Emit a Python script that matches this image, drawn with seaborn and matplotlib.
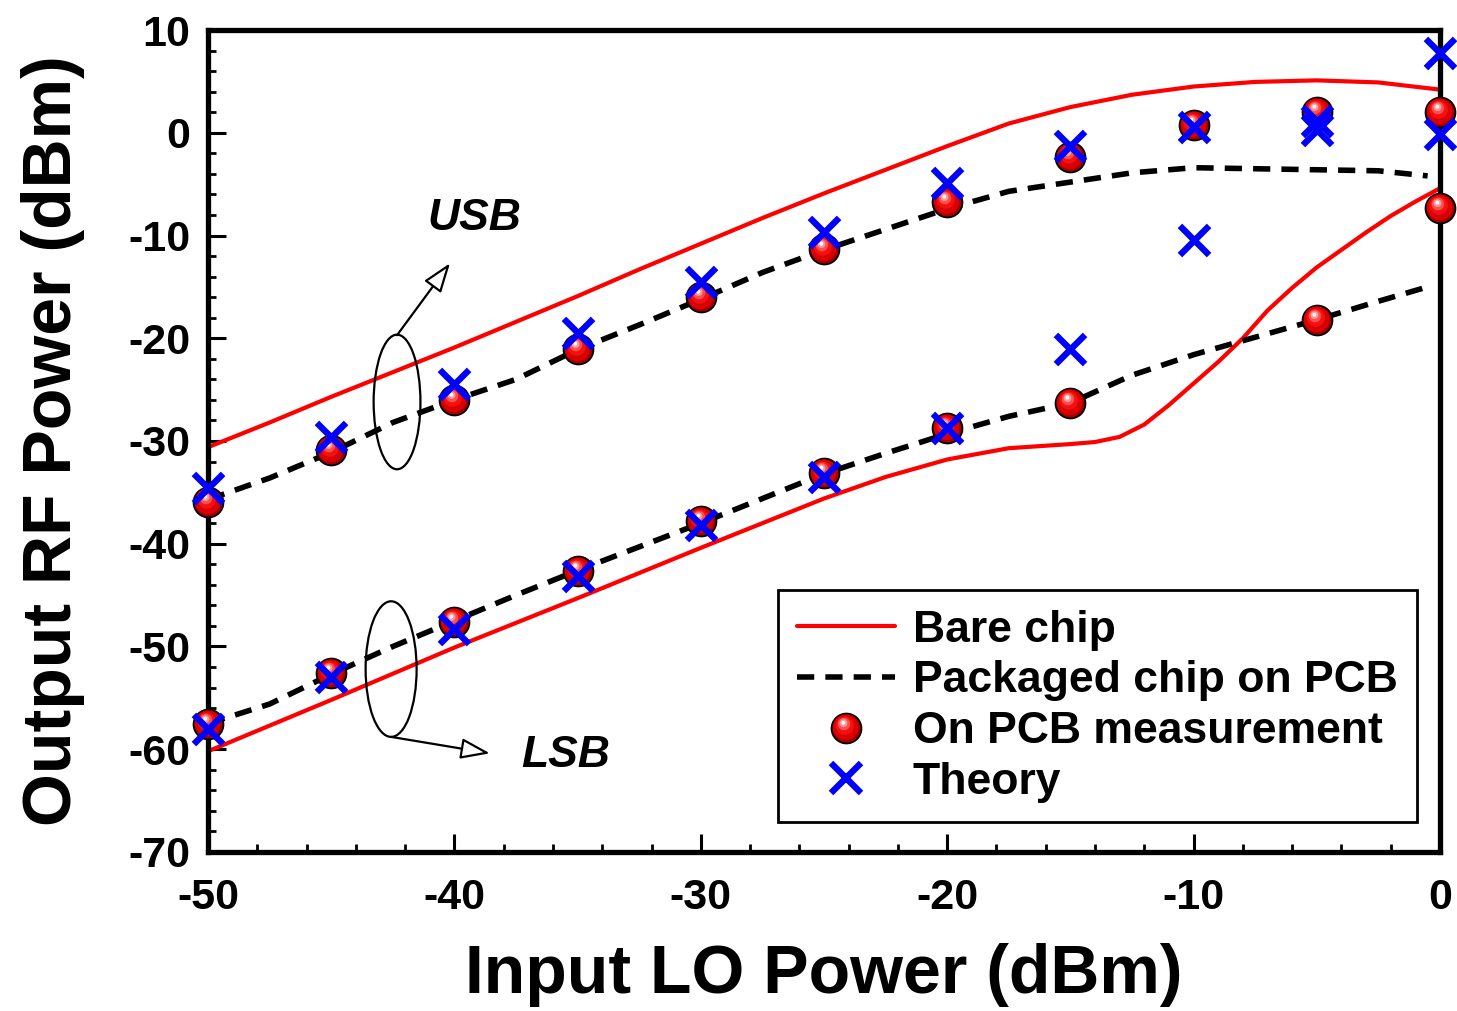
import numpy as np
import pandas as pd
import matplotlib
matplotlib.use("Agg")
import matplotlib.pyplot as plt
import seaborn as sns
from matplotlib.path import Path
from matplotlib.lines import Line2D
from matplotlib.patches import Ellipse
from matplotlib.legend_handler import HandlerTuple
from matplotlib.ticker import AutoMinorLocator

# ---------------- data ----------------
bare_usb_x = [-50, -47.5, -45, -42.5, -40, -37.5, -35, -32.5, -30, -27.5, -25,
              -22.5, -20, -17.5, -15, -12.5, -10, -7.5, -5, -2.5, 0]
bare_usb_y = [-30.6, -28.2, -25.7, -23.3, -20.9, -18.4, -15.9, -13.3, -10.8, -8.3, -5.9,
              -3.6, -1.3, 0.9, 2.5, 3.7, 4.5, 4.95, 5.1, 4.9, 4.2]

bare_lsb_x = [-50, -45, -40, -35, -30, -25, -22.5, -20, -17.5, -15, -14, -13, -12, -11,
              -10, -9, -8, -7, -6, -5, -4, -3, -2, -1, 0]
bare_lsb_y = [-60.2, -55.2, -50.1, -45.3, -40.4, -35.6, -33.5, -31.8, -30.7, -30.3, -30.1,
              -29.6, -28.4, -26.5, -24.4, -22.3, -20.0, -17.3, -15.1, -13.1, -11.4, -9.7,
              -8.1, -6.7, -5.4]

pkg_x = [-50, -47.5, -45, -42.5, -40, -37.5, -35, -32.5, -30, -27.5, -25,
         -22.5, -20, -17.5, -15, -12.5, -10, -7.5, -5, -2.5, -0.5]
pkg_usb_y = [-35.7, -33.6, -31.1, -28.2, -26.0, -24.0, -21.1, -18.7, -16.2, -13.6, -11.4,
             -9.4, -7.4, -5.7, -4.8, -3.9, -3.4, -3.5, -3.6, -3.7, -4.2]
pkg_lsb_y = [-57.5, -55.6, -52.7, -50.0, -47.5, -45.0, -42.6, -40.3, -38.0, -35.6, -33.2,
             -31.2, -29.3, -27.6, -26.3, -23.6, -21.6, -19.9, -18.2, -16.4, -15.0]

meas_usb_x = [-50, -45, -40, -35, -30, -25, -20, -15, -10, -5, 0]
meas_usb_y = [-35.9, -30.9, -26.0, -21.0, -16.0, -11.3, -6.7, -2.4, 0.8, 2.0, 2.0]
meas_lsb_x = [-50, -45, -40, -35, -30, -25, -20, -15, -5, 0]
meas_lsb_y = [-57.5, -52.6, -47.6, -42.7, -37.8, -33.1, -28.7, -26.3, -18.2, -7.3]

theory_x = [-50, -45, -40, -35, -30, -25, -20, -15, -10, -5, 0]
theory_usb_y = [-34.6, -29.6, -24.5, -19.5, -14.5, -9.7, -4.9, -1.3, 0.6, 0.3, -0.1]
theory_lsb_y = [-58.0, -53.0, -48.3, -43.1, -38.2, -33.5, -28.7, -21.0, -10.4, 1.1, 7.8]

x_ticks = [-50, -40, -30, -20, -10, 0]
y_ticks = [-70, -60, -50, -40, -30, -20, -10, 0, 10]
legend_labels = ["Bare chip", "Packaged chip on PCB", "On PCB measurement", "Theory"]
band_labels = ["USB", "LSB"]

# ---------------- style ----------------
sns.set_theme(style="ticks")
plt.rcParams["font.family"] = ["Liberation Sans", "DejaVu Sans"]
plt.rcParams["font.weight"] = "bold"
plt.rcParams["axes.unicode_minus"] = False
for k in ("text.color", "axes.labelcolor", "xtick.color", "ytick.color", "axes.edgecolor"):
    plt.rcParams[k] = "black"

fig = plt.figure(figsize=(14.57, 10.11), dpi=100)
ax = fig.add_axes([0.1428, 0.1573, 0.9883 - 0.1428, 0.9703 - 0.1573])

RED = "#ff0000"
BLUE = "#0000ff"
LW_RED = 3.0
LW_DASH = 4.0
DASHES = (3.1, 2.0)

# lines
sns.lineplot(x=bare_usb_x, y=bare_usb_y, ax=ax, color=RED, lw=LW_RED, sort=False, zorder=2)
sns.lineplot(x=bare_lsb_x, y=bare_lsb_y, ax=ax, color=RED, lw=LW_RED, sort=False, zorder=2)
for yy in (pkg_usb_y, pkg_lsb_y):
    sns.lineplot(x=pkg_x, y=yy, ax=ax, color="black", lw=LW_DASH, sort=False, zorder=2)
for l in ax.get_lines()[2:]:
    l.set_linestyle((0, DASHES))

# sphere markers
def sphere_layer(cx, cy, r):
    circ = Path.circle((cx, cy), r)
    verts = np.concatenate([circ.vertices, [[-1.0, -1.0], [1.0, 1.0]]])
    codes = np.concatenate([circ.codes, [Path.MOVETO, Path.MOVETO]])
    return Path(verts, codes)

SPH = 21.5  # marker diameter in points
layers = [
    (sphere_layer(-0.06, 0.08, 0.86), "#d80000"),
    (sphere_layer(-0.12, 0.2, 0.62), "#f51010"),
    (sphere_layer(-0.17, 0.3, 0.42), "#ff5050"),
    (sphere_layer(-0.2, 0.36, 0.26), "#ff9a9a"),
    (sphere_layer(-0.21, 0.39, 0.13), "#ffffff"),
]
for xs, ys in ((meas_usb_x, meas_usb_y), (meas_lsb_x, meas_lsb_y)):
    sns.scatterplot(x=xs, y=ys, ax=ax, marker="o", s=SPH ** 2, color="#a00000",
                    edgecolor="black", linewidth=1.3, zorder=4, legend=False, clip_on=False)
    for p, c in layers:
        sns.scatterplot(x=xs, y=ys, ax=ax, marker=p, s=SPH ** 2, color=c,
                        linewidth=0, zorder=4, legend=False, clip_on=False)

# theory crosses
for yy in (theory_usb_y, theory_lsb_y):
    sns.scatterplot(x=theory_x, y=yy, ax=ax, marker="x", s=21 ** 2, color=BLUE,
                    linewidth=4.6, zorder=5, legend=False, clip_on=False)

# ---------------- axes ----------------
ax.set_xlim(-50, 0)
ax.set_ylim(-70, 10)
ax.set_xticks(x_ticks)
ax.set_yticks(y_ticks)
ax.xaxis.set_minor_locator(AutoMinorLocator(5))
ax.yaxis.set_minor_locator(AutoMinorLocator(5))
ax.tick_params(which="both", direction="in", top=False, right=False, colors="black")
ax.tick_params(which="major", length=13, width=2.2, labelsize=31)
ax.tick_params(axis="x", which="major", pad=19)
ax.tick_params(axis="y", which="major", pad=13)
ax.tick_params(which="minor", length=6, width=2.0)
for lab in ax.get_xticklabels() + ax.get_yticklabels():
    lab.set_fontweight("bold")
for sp in ax.spines.values():
    sp.set_linewidth(3.8)
    sp.set_color("black")
    sp.set_visible(True)

ax.set_xlabel("Input LO Power (dBm)", fontsize=49, fontweight="bold", labelpad=18)
ax.set_ylabel("Output RF Power (dBm)", fontsize=49, fontweight="bold", labelpad=31)

# ---------------- annotations ----------------
ax.add_patch(Ellipse((-42.33, -26.2), 1.9, 13.1, fill=False, ec="black", lw=1.6, zorder=3))
ax.add_patch(Ellipse((-42.57, -52.2), 2.07, 13.2, fill=False, ec="black", lw=1.6, zorder=3))
arrow_kw = dict(arrowstyle="-|>,head_length=0.9,head_width=0.32", fc="white", ec="black",
                lw=1.6, mutation_scale=20, shrinkA=0, shrinkB=0)
ax.annotate("", xy=(-40.18, -12.7), xytext=(-42.33, -19.7), arrowprops=arrow_kw, zorder=3)
ax.annotate("", xy=(-38.56, -60.4), xytext=(-42.57, -58.8), arrowprops=arrow_kw, zorder=3)
ax.text(-39.2, -8.3, band_labels[0], fontsize=32, fontweight="bold", fontstyle="italic",
        ha="center", va="center", color="black")
ax.text(-35.5, -60.6, band_labels[1], fontsize=32, fontweight="bold", fontstyle="italic",
        ha="center", va="center", color="black")

# ---------------- legend ----------------
h_bare = Line2D([], [], color=RED, lw=LW_RED)
h_pkg = Line2D([], [], color="black", lw=LW_DASH, linestyle=(0, DASHES))
h_sph = [Line2D([], [], ls="", marker="o", markersize=SPH, mfc="#a00000", mec="black", mew=1.3)]
for p, c in layers:
    h_sph.append(Line2D([], [], ls="", marker=p, markersize=SPH, mfc=c, mec=c, mew=0))
h_th = Line2D([], [], ls="", marker="x", markersize=21, color=BLUE, mew=4.6)

leg = ax.legend([h_bare, h_pkg, tuple(h_sph), h_th], legend_labels,
                handler_map={tuple: HandlerTuple(ndivide=1, pad=0)},
                loc="lower right", bbox_to_anchor=(0.981, 0.0365), borderaxespad=0,
                frameon=True, fancybox=False, framealpha=1, edgecolor="black",
                prop={"weight": "bold", "size": 32}, handlelength=2.2,
                handletextpad=0.4, labelspacing=0.22, borderpad=0.43)
leg.get_frame().set_linewidth(2.0)
leg.set_zorder(6)
for t in leg.get_texts():
    t.set_color("black")

fig.savefig("out.png", dpi=100)
